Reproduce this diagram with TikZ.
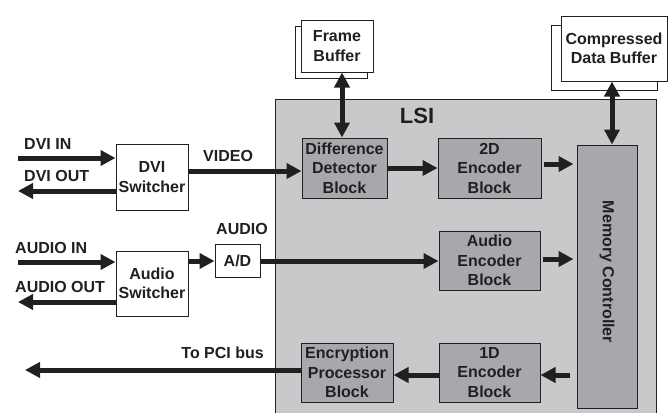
\documentclass[tikz,border=0pt]{standalone}
\usepackage{fontspec}
\setmainfont{Liberation Sans}
\usepackage{tikz}
\usetikzlibrary{arrows.meta}
\usetikzlibrary{shadows}
\definecolor{ink}{HTML}{231F20}
\definecolor{lsigray}{HTML}{C8C9CB}
\definecolor{blkgray}{HTML}{A7A8AB}
\tikzset{txt/.style = {font=\fontsize{16}{19.5}\selectfont\bfseries, text=ink, align=center, inner sep=0}}
\tikzset{sw/.style = {txt, draw=ink, fill=white, line width=1, rectangle, inner sep=0}}
\tikzset{blk/.style = {txt, draw=ink, fill=blkgray, line width=1, rectangle, inner sep=0}}
\tikzset{buf/.style = {sw, copy shadow={shadow xshift=#1, shadow yshift=#1}}}
\tikzset{arr/.style = {draw=ink, line width=5, -{Triangle[length=15,width=15]}}}
\tikzset{darr/.style = {draw=ink, line width=5, {Triangle[length=15,width=15]}-{Triangle[length=15,width=15]}}}

\begin{document}
\begin{tikzpicture}[x=1pt,y=-1pt]
        \useasboundingbox (0,0) rectangle (672,413);
        % LSI chip, cut off at the bottom
        \fill [lsigray] (275,99) rectangle (656,413);
        \draw [ink,line width=1] (275,413) -- (275,99) -- (656,99) -- (656,413);
        \node [txt,font=\fontsize{22}{24}\selectfont\bfseries] (lsi) at (417,116) {LSI};
        % external buffers
        \node [buf=-6pt,minimum width=72,minimum height=52] (framebuf) at (337,46) {Frame\\Buffer};
        \node [buf=-9.5pt,minimum width=106,minimum height=65] (cdb) at (614,48.5) {Compressed\\Data Buffer};
        % switchers
        \node [sw,minimum width=72,minimum height=66] (dvisw) at (152,177) {DVI\\Switcher};
        \node [sw,minimum width=72,minimum height=65] (audsw) at (152,283.5) {Audio\\Switcher};
        \node [sw,minimum width=45,minimum height=33] (ad) at (237.5,261) {A/D};
        % blocks inside the LSI
        \node [blk,minimum width=85,minimum height=60] (diff) at (344.5,168) {Difference\\Detector\\Block};
        \node [blk,minimum width=103,minimum height=60] (enc2d) at (489.5,168) {2D\\Encoder\\Block};
        \node [blk,minimum width=101,minimum height=59] (audenc) at (489.5,260.5) {Audio\\Encoder\\Block};
        \node [blk,minimum width=101,minimum height=59] (enc1d) at (489.5,372.5) {1D\\Encoder\\Block};
        \node [blk,minimum width=92,minimum height=59] (encr) at (347,372.5) {Encryption\\Processor\\Block};
        \node [blk,minimum width=60,minimum height=263] (mem) at (607,276.5) {};
        \node [txt,rotate=-90] (memtxt) at (607,272) {Memory Controller};
        % labels
        \node [txt,anchor=west] (dviinl) at (24,144) {DVI IN};
        \node [txt,anchor=west] (dvioutl) at (24,176) {DVI OUT};
        \node [txt,anchor=west] (videol) at (203,156) {VIDEO};
        \node [txt,anchor=west] (audiol) at (216,229) {AUDIO};
        \node [txt,anchor=west] (audinl) at (15,248) {AUDIO IN};
        \node [txt,anchor=west] (audoutl) at (15,287) {AUDIO OUT};
        \node [txt,anchor=east] (pcil) at (264,353) {To PCI bus};
        \coordinate (dviin) at (18,158);
        \coordinate (dviout) at (18,191);
        \coordinate (audin) at (18,262);
        \coordinate (audout) at (18,302);
        \coordinate (video) at (200,171);
        \coordinate (pci) at (25,370);
        % connectors
        \draw [arr] (dviin) -- (dviin -| dvisw.west);
        \draw [arr] (dviout -| dvisw.west) -- (dviout);
        \draw [arr] (audin) -- (audin -| audsw.west);
        \draw [arr] (audout -| audsw.west) -- (audout);
        \draw [arr] (video -| dvisw.east) -- (video -| diff.west);
        \draw [arr] (audsw.east |- ad) -- (ad.west);
        \draw [arr] (ad.east) -- (ad.east -| audenc.west);
        \draw [arr] (diff.east) -- (enc2d.west);
        \draw [arr,shorten <=2,shorten >=3] ([yshift=4]enc2d.east) -- ([yshift=4]enc2d.east -| mem.west);
        \draw [arr,shorten <=2,shorten >=3] ([yshift=1.5]audenc.east) -- ([yshift=1.5]audenc.east -| mem.west);
        \draw [arr,shorten <=7] ([yshift=-2.5]enc1d.east -| mem.west) -- ([yshift=-2.5]enc1d.east);
        \draw [arr] ([yshift=-2.5]enc1d.west) -- ([yshift=-2.5]encr.east);
        \draw [arr] (pci -| encr.west) -- (pci);
        \draw [darr] ([xshift=5]framebuf.south) -- ([xshift=5]framebuf.south |- diff.north);
        \draw [darr] ([xshift=-2]cdb.south) -- ([xshift=-2]cdb.south |- mem.north);
    \end{tikzpicture}
\end{document}
